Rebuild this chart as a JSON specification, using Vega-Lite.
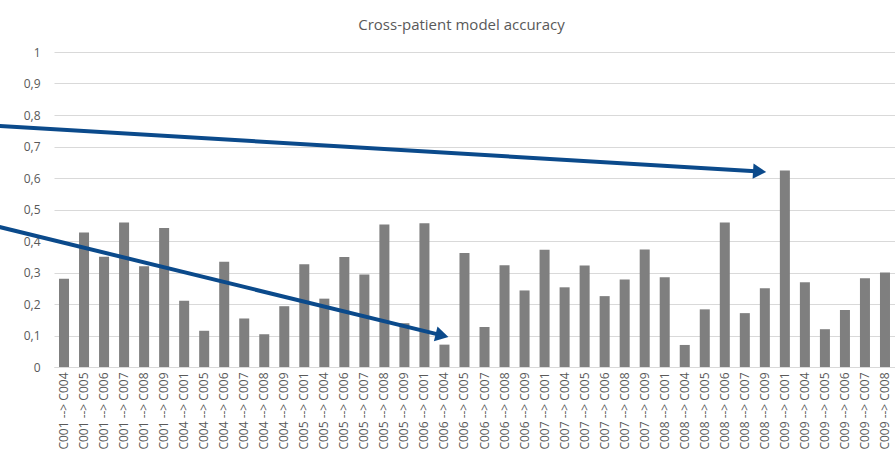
{
  "$schema": "https://vega.github.io/schema/vega-lite/v6.json",
  "autosize": "none",
  "width": 841,
  "height": 315,
  "padding": {"left": 54, "top": 52, "right": 0, "bottom": 97},
  "background": "white",
  "config": {
    "view": {"stroke": null},
    "font": "Open Sans",
    "axisY": {
      "labelFont": "Open Sans",
      "labelFontSize": 12,
      "labelColor": "#595959",
      "labelPadding": 14,
      "ticks": false,
      "domain": false,
      "grid": true,
      "gridColor": "#d9d9d9",
      "gridWidth": 1,
      "labelOverlap": false
    }
  },
  "title": {
    "text": "Cross-patient model accuracy",
    "font": "Open Sans",
    "fontSize": 15,
    "fontWeight": "normal",
    "color": "#595959",
    "anchor": "middle",
    "dx": -13,
    "baseline": "alphabetic",
    "offset": 1
  },
  "datasets": {
    "bars": [
      {"pair": "C001 --> C004", "accuracy": 0.28},
      {"pair": "C001 --> C005", "accuracy": 0.427},
      {"pair": "C001 --> C006", "accuracy": 0.35},
      {"pair": "C001 --> C007", "accuracy": 0.459},
      {"pair": "C001 --> C008", "accuracy": 0.32},
      {"pair": "C001 --> C009", "accuracy": 0.441},
      {"pair": "C004 --> C001", "accuracy": 0.21},
      {"pair": "C004 --> C005", "accuracy": 0.115},
      {"pair": "C004 --> C006", "accuracy": 0.334},
      {"pair": "C004 --> C007", "accuracy": 0.154},
      {"pair": "C004 --> C008", "accuracy": 0.104},
      {"pair": "C004 --> C009", "accuracy": 0.193},
      {"pair": "C005 --> C001", "accuracy": 0.326},
      {"pair": "C005 --> C004", "accuracy": 0.217},
      {"pair": "C005 --> C006", "accuracy": 0.349},
      {"pair": "C005 --> C007", "accuracy": 0.294},
      {"pair": "C005 --> C008", "accuracy": 0.452},
      {"pair": "C005 --> C009", "accuracy": 0.139},
      {"pair": "C006 --> C001", "accuracy": 0.456},
      {"pair": "C006 --> C004", "accuracy": 0.071},
      {"pair": "C006 --> C005", "accuracy": 0.362},
      {"pair": "C006 --> C007", "accuracy": 0.127},
      {"pair": "C006 --> C008", "accuracy": 0.323},
      {"pair": "C006 --> C009", "accuracy": 0.243},
      {"pair": "C007 --> C001", "accuracy": 0.372},
      {"pair": "C007 --> C004", "accuracy": 0.253},
      {"pair": "C007 --> C005", "accuracy": 0.322},
      {"pair": "C007 --> C006", "accuracy": 0.225},
      {"pair": "C007 --> C008", "accuracy": 0.278},
      {"pair": "C007 --> C009", "accuracy": 0.373},
      {"pair": "C008 --> C001", "accuracy": 0.285},
      {"pair": "C008 --> C004", "accuracy": 0.07},
      {"pair": "C008 --> C005", "accuracy": 0.183},
      {"pair": "C008 --> C006", "accuracy": 0.459},
      {"pair": "C008 --> C007", "accuracy": 0.171},
      {"pair": "C008 --> C009", "accuracy": 0.25},
      {"pair": "C009 --> C001", "accuracy": 0.624},
      {"pair": "C009 --> C004", "accuracy": 0.269},
      {"pair": "C009 --> C005", "accuracy": 0.12},
      {"pair": "C009 --> C006", "accuracy": 0.181},
      {"pair": "C009 --> C007", "accuracy": 0.282},
      {"pair": "C009 --> C008", "accuracy": 0.30}
    ],
    "arrows": [
      {"arrow": "a", "pos": -3.2, "value": 0.767},
      {"arrow": "a", "pos": 35.24, "value": 0.6206},
      {"arrow": "b", "pos": -3.2, "value": 0.452},
      {"arrow": "b", "pos": 19.38, "value": 0.1003}
    ],
    "headA": [{"pos": 35.24, "value": 0.6206}],
    "headB": [{"pos": 19.38, "value": 0.1003}]
  },
  "layer": [
    {
      "data": {"name": "bars"},
      "mark": {"type": "bar", "color": "#7f7f7f"},
      "encoding": {
        "x": {
          "field": "pair",
          "type": "nominal",
          "sort": null,
          "scale": {"paddingInner": 0.5, "paddingOuter": 0.25},
          "axis": {
            "title": null,
            "labelAngle": -90,
            "labelFont": "Open Sans",
            "labelFontSize": 12,
            "labelColor": "#595959",
            "labelPadding": 5,
            "ticks": false,
            "domainColor": "#d9d9d9",
            "domainWidth": 1,
            "grid": false
          }
        },
        "y": {
          "field": "accuracy",
          "type": "quantitative",
          "scale": {"domain": [0, 1], "nice": false},
          "axis": {
            "title": null,
            "values": [0, 0.1, 0.2, 0.3, 0.4, 0.5, 0.6, 0.7, 0.8, 0.9, 1],
            "labelExpr": "replace(format(datum.value, '~g'), '.', ',')"
          }
        }
      }
    },
    {
      "data": {"name": "arrows"},
      "mark": {"type": "line", "color": "#0b4a8b", "strokeWidth": 4, "clip": false},
      "encoding": {
        "x": {"field": "pos", "type": "quantitative", "scale": {"domain": [0, 42], "nice": false, "zero": false}, "axis": null},
        "y": {
          "field": "value",
          "type": "quantitative",
          "axis": {
            "title": null,
            "values": [0, 0.1, 0.2, 0.3, 0.4, 0.5, 0.6, 0.7, 0.8, 0.9, 1],
            "labelExpr": "replace(format(datum.value, '~g'), '.', ',')"
          }
        },
        "detail": {"field": "arrow"}
      }
    },
    {
      "data": {"name": "headA"},
      "mark": {"type": "point", "shape": "triangle-right", "filled": true, "opacity": 1, "color": "#0b4a8b", "size": 230, "angle": 3.5},
      "encoding": {
        "x": {"field": "pos", "type": "quantitative", "scale": {"domain": [0, 42], "nice": false, "zero": false}, "axis": null},
        "y": {
          "field": "value",
          "type": "quantitative",
          "axis": {
            "title": null,
            "values": [0, 0.1, 0.2, 0.3, 0.4, 0.5, 0.6, 0.7, 0.8, 0.9, 1],
            "labelExpr": "replace(format(datum.value, '~g'), '.', ',')"
          }
        }
      }
    },
    {
      "data": {"name": "headB"},
      "mark": {"type": "point", "shape": "triangle-right", "filled": true, "opacity": 1, "color": "#0b4a8b", "size": 230, "angle": 13.7},
      "encoding": {
        "x": {"field": "pos", "type": "quantitative", "scale": {"domain": [0, 42], "nice": false, "zero": false}, "axis": null},
        "y": {
          "field": "value",
          "type": "quantitative",
          "axis": {
            "title": null,
            "values": [0, 0.1, 0.2, 0.3, 0.4, 0.5, 0.6, 0.7, 0.8, 0.9, 1],
            "labelExpr": "replace(format(datum.value, '~g'), '.', ',')"
          }
        }
      }
    }
  ],
  "resolve": {"scale": {"x": "independent"}}
}
